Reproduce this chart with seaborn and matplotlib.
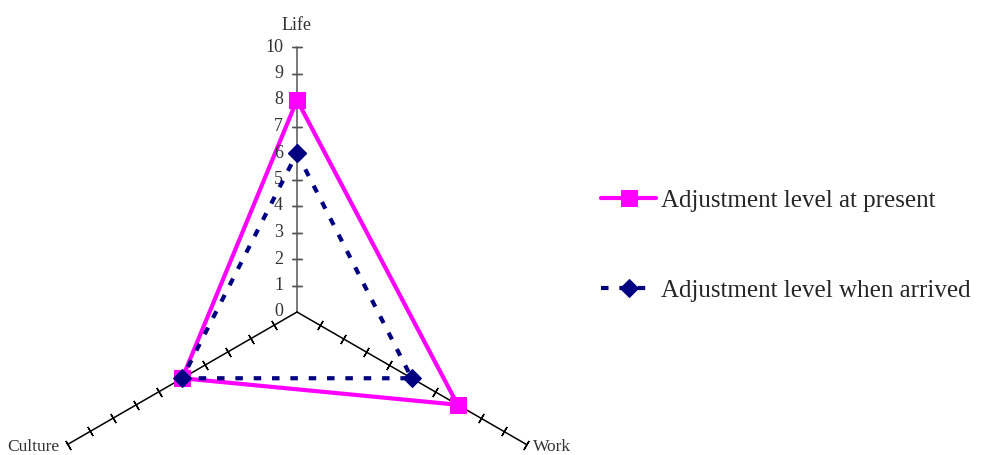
import numpy as np
import pandas as pd
import seaborn as sns
import matplotlib.pyplot as plt

categories = ['Life', 'Work', 'Culture']
present = [8, 7, 5]
arrived = [6, 5, 5]
tick_labels = [str(i) for i in range(0, 11)]
series_names = ['Adjustment level at present', 'Adjustment level when arrived']

sns.set_style('white')
plt.rcParams['font.family'] = ['Liberation Serif', 'DejaVu Serif']

# axis directions: Life up, Work lower right, Culture lower left
angles_deg = [90, -30, 210]
angles = np.deg2rad(angles_deg)

fig = plt.figure(figsize=(9.81, 4.55), dpi=100)
W, H = 981, 455
cx, cy, rad = 297, 312, 265
ax = fig.add_axes([(cx - rad) / W, (H - cy - rad) / H, 2 * rad / W, 2 * rad / H],
                  projection='polar')
ax.set_ylim(0, 10)
ax.grid(False)
ax.spines['polar'].set_visible(False)
ax.set_xticks([])
ax.set_yticks([])
ax.patch.set_alpha(0)

# radial axes with tick marks
for k, (a, ad) in enumerate(zip(angles, angles_deg)):
    col = '#555555' if k == 0 else 'black'
    ax.plot([a, a], [0, 10], color=col, lw=1.1, zorder=1, clip_on=False)
    ax.plot([a] * 10, range(1, 11), ls='none', marker=(2, 2, ad), ms=7.5,
            mew=1.0, color=col, zorder=1, clip_on=False)

# tick labels on Life axis
for i, t in enumerate(tick_labels):
    ax.annotate(t, (angles[0], i), xytext=(-10, 0), textcoords='offset points',
                ha='right', va='center', fontsize=13, color='#333333')

# category labels
ax.annotate(categories[0], (angles[0], 10), xytext=(0, 9), textcoords='offset points',
            ha='center', va='bottom', fontsize=13, color='#333333')
ax.annotate(categories[1], (angles[1], 10), xytext=(5, -1.5), textcoords='offset points',
            ha='left', va='center', fontsize=12.5, color='#333333')
ax.annotate(categories[2], (angles[2], 10), xytext=(-6, -1.5), textcoords='offset points',
            ha='right', va='center', fontsize=12.5, color='#333333')

th = list(angles) + [angles[0]]
df_p = pd.DataFrame({'theta': th, 'r': present + [present[0]]})
df_a = pd.DataFrame({'theta': th, 'r': arrived + [arrived[0]]})

sns.lineplot(data=df_a, x='theta', y='r', ax=ax, sort=False, estimator=None,
             color='#000080', lw=3, linestyle=(0, (1.8, 2.6)), marker='D', ms=9,
             mec='#000080', mfc='#000080', label=series_names[1], zorder=3,
             clip_on=False, legend=False)
sns.lineplot(data=df_p, x='theta', y='r', ax=ax, sort=False, estimator=None,
             color='#FF00FF', lw=3, marker='s', ms=11, mec='#FF00FF',
             mfc='#FF00FF', label=series_names[0], zorder=2, clip_on=False,
             legend=False)
ax.set_xlabel('')
ax.set_ylabel('')

lines = ax.get_lines()
h_a, h_p = lines[-2], lines[-1]
fig.legend([h_p, h_a], series_names, loc='center left',
           bbox_to_anchor=(0.590, 0.46), frameon=False, fontsize=18,
           handlelength=2.2, handletextpad=0.2, labelspacing=2.7, numpoints=1)

fig.savefig('out.png', dpi=100)
